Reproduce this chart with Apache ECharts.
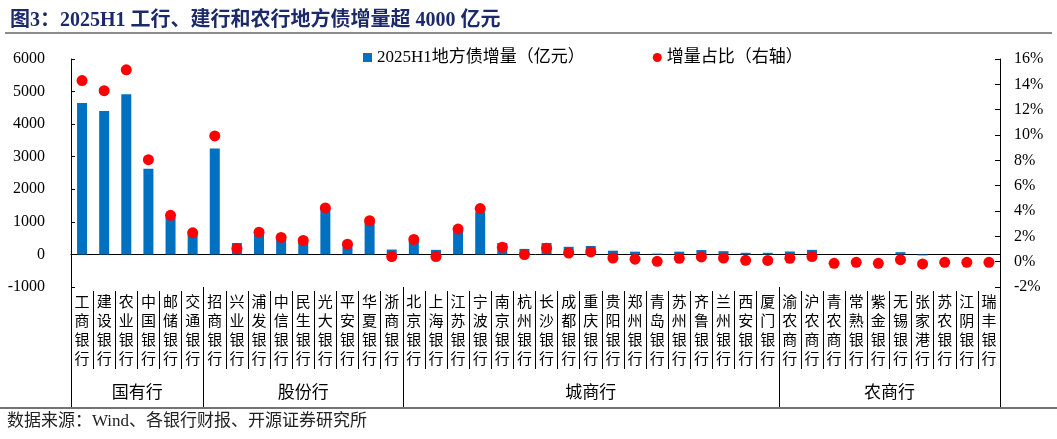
<!DOCTYPE html>
<html>
<head>
<meta charset="utf-8">
<script src="https://cdn.jsdelivr.net/npm/echarts@6/dist/echarts.min.js"></script>
<style>
  html, body { margin: 0; padding: 0; background: #fff; }
  #chart { width: 1057px; height: 439px; }
</style>
</head>
<body>
<div id="chart"></div>
<script>
// banks in display order
const banks = [
  "工商银行", "建设银行", "农业银行", "中国银行", "邮储银行", "交通银行",
  "招商银行", "兴业银行", "浦发银行", "中信银行", "民生银行", "光大银行", "平安银行", "华夏银行", "浙商银行",
  "北京银行", "上海银行", "江苏银行", "宁波银行", "南京银行", "杭州银行", "长沙银行", "成都银行", "重庆银行",
  "贵阳银行", "郑州银行", "青岛银行", "苏州银行", "齐鲁银行", "兰州银行", "西安银行", "厦门银行",
  "渝农商行", "沪农商行", "青农商行", "常熟银行", "紫金银行", "无锡银行", "张家港行", "苏农银行", "江阴银行", "瑞丰银行"
];

// 2025H1 地方债增量（亿元）
const increments = [
  4650, 4400, 4920, 2630, 1150, 620,
  3250, 350, 620, 500, 400, 1400, 300, 1000, 150,
  460, 140, 770, 1300, 350, 170, 350, 235, 260,
  115, 85, 25, 85, 135, 100, 50, 50,
  90, 140, 0, 0, 0, 70, -30, 0, 0, 0
];

// 增量占比（%，右轴）
const shares = [
  14.3, 13.5, 15.15, 8.05, 3.66, 2.28,
  9.93, 1.03, 2.33, 1.91, 1.67, 4.24, 1.38, 3.23, 0.4,
  1.75, 0.4, 2.57, 4.19, 1.14, 0.56, 1.06, 0.68, 0.77,
  0.29, 0.2, 0.03, 0.26, 0.37, 0.28, 0.11, 0.1,
  0.27, 0.4, -0.13, -0.05, -0.13, 0.16, -0.18, -0.05, -0.05, -0.05
];

const groupNames = ["国有行", "股份行", "城商行", "农商行"];
const groupSizes = [6, 9, 17, 10];

const leftAxis = { min: -1000, max: 6000, step: 1000 };
const rightAxis = { min: -2, max: 16, step: 2 };

// group axis works in half-category steps so names can sit in the middle
const groupEdges = [0];
groupSizes.forEach(s => groupEdges.push(groupEdges[groupEdges.length - 1] + s * 2));
const groupAxisData = new Array(banks.length * 2 + 1).fill("");
groupNames.forEach((g, i) => { groupAxisData[groupEdges[i] + groupSizes[i]] = g; });

const serif = "'Liberation Serif', 'Noto Sans CJK SC', serif";

const chart = echarts.init(document.getElementById("chart"));

const option = {
  animation: false,
  title: {
    text: "图3：2025H1 工行、建行和农行地方债增量超 4000 亿元",
    left: 5,
    top: 6,
    textStyle: { fontSize: 20, fontWeight: "bold", color: "#1c2a6b", fontFamily: serif }
  },
  legend: {
    left: 358,
    top: 44,
    itemWidth: 9,
    itemHeight: 9,
    itemGap: 68,
    textStyle: { fontSize: 17, color: "#000", fontFamily: serif },
    data: [
      { name: "2025H1地方债增量（亿元）", icon: "rect" },
      { name: "增量占比（右轴）", icon: "circle" }
    ]
  },
  grid: { left: 71, right: 57, top: 59, bottom: 152 },
  xAxis: [
    {
      type: "category",
      data: banks,
      axisLine: { onZero: true, onZeroAxisIndex: 0, lineStyle: { color: "#000", width: 1 } },
      axisTick: { inside: true, length: 5, interval: 0, lineStyle: { color: "#444" } },
      axisLabel: { show: false }
    },
    {
      type: "category",
      data: banks,
      position: "bottom",
      offset: 4,
      axisLine: { show: false, onZero: false },
      axisTick: { show: true, interval: 0, length: 78, lineStyle: { color: "#000" } },
      axisLabel: {
        interval: 0,
        margin: 3,
        fontSize: 15,
        lineHeight: 19,
        color: "#000",
        fontFamily: serif,
        formatter: v => v.split("").join("\n")
      }
    },
    {
      type: "category",
      data: groupAxisData,
      boundaryGap: false,
      position: "bottom",
      offset: 0,
      axisLine: { show: false, onZero: false },
      axisTick: { show: true, length: 120, interval: i => groupEdges.includes(i), lineStyle: { color: "#000" } },
      axisLabel: { interval: 0, margin: 98, fontSize: 17, color: "#000", fontFamily: serif }
    }
  ],
  yAxis: [
    {
      type: "value",
      min: leftAxis.min,
      max: leftAxis.max,
      interval: leftAxis.step,
      axisLine: { show: true, lineStyle: { color: "#000" } },
      axisTick: { show: true, inside: true, length: 4, lineStyle: { color: "#000" } },
      splitLine: { show: false },
      axisLabel: { margin: 26, fontSize: 16, color: "#000", fontFamily: serif, formatter: v => String(v) }
    },
    {
      type: "value",
      position: "right",
      min: rightAxis.min,
      max: rightAxis.max,
      interval: rightAxis.step,
      axisLine: { show: true, lineStyle: { color: "#000" } },
      axisTick: { show: true, inside: true, length: 5, lineStyle: { color: "#000" } },
      splitLine: { show: false },
      axisLabel: { margin: 14, fontSize: 16, color: "#000", fontFamily: serif, formatter: v => v + "%" }
    }
  ],
  series: [
    {
      name: "2025H1地方债增量（亿元）",
      type: "bar",
      xAxisIndex: 0,
      yAxisIndex: 0,
      data: increments,
      barWidth: 10,
      itemStyle: { color: "#0070C0" }
    },
    {
      name: "增量占比（右轴）",
      type: "scatter",
      xAxisIndex: 0,
      yAxisIndex: 1,
      data: shares,
      symbolSize: 11,
      itemStyle: { color: "#FF0000", opacity: 1 },
      z: 5
    }
  ],
  graphic: [
    {
      type: "line",
      shape: { x1: 5, y1: 33, x2: 1052, y2: 33 },
      style: { stroke: "#8c8c8c", lineWidth: 2 }
    },
    {
      type: "line",
      shape: { x1: 0, y1: 408, x2: 1057, y2: 408 },
      style: { stroke: "#444", lineWidth: 1.5 }
    },
    {
      type: "text",
      left: 7,
      top: 413,
      style: {
        text: "数据来源：Wind、各银行财报、开源证券研究所",
        fontSize: 17,
        fill: "#222",
        fontFamily: serif
      }
    }
  ]
};

chart.setOption(option);
window.addEventListener("resize", () => chart.resize());
</script>
</body>
</html>
